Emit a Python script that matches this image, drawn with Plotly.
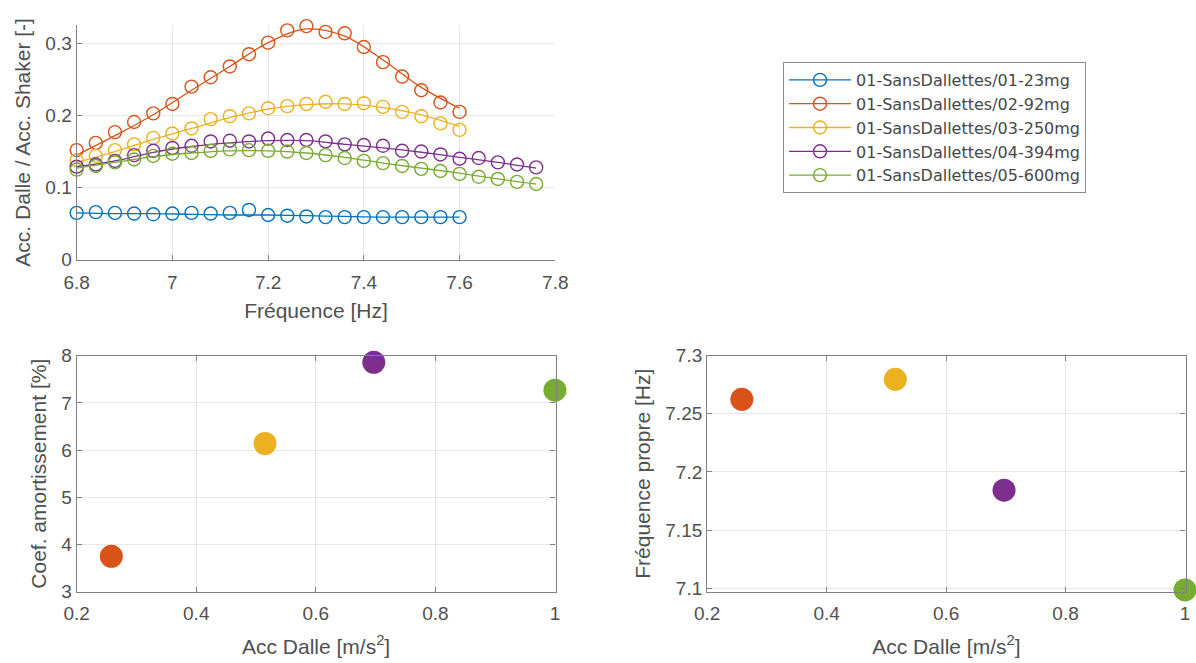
import plotly.graph_objects as go

# ---------------- data ----------------
freq_short = [6.80, 6.84, 6.88, 6.92, 6.96, 7.00, 7.04, 7.08, 7.12, 7.16, 7.20,
              7.24, 7.28, 7.32, 7.36, 7.40, 7.44, 7.48, 7.52, 7.56, 7.60]
freq_long = freq_short + [7.64, 7.68, 7.72, 7.76]

blue_pts = [0.065, 0.066, 0.065, 0.064, 0.063, 0.064, 0.065, 0.064, 0.065, 0.069, 0.062,
            0.061, 0.060, 0.059, 0.059, 0.059, 0.059, 0.059, 0.059, 0.059, 0.059]
orange_pts = [0.152, 0.162, 0.177, 0.191, 0.203, 0.216, 0.240, 0.253, 0.268, 0.285, 0.301,
              0.318, 0.324, 0.316, 0.314, 0.295, 0.274, 0.254, 0.235, 0.218, 0.205]
yellow_pts = [0.138, 0.144, 0.152, 0.160, 0.169, 0.175, 0.182, 0.195, 0.199, 0.203, 0.210,
              0.213, 0.216, 0.219, 0.216, 0.217, 0.212, 0.205, 0.199, 0.189, 0.180]
purple_pts = [0.129, 0.132, 0.137, 0.145, 0.151, 0.155, 0.158, 0.164, 0.165, 0.164, 0.168,
              0.166, 0.166, 0.164, 0.160, 0.159, 0.158, 0.151, 0.150, 0.146, 0.140,
              0.141, 0.135, 0.132, 0.128]
green_pts = [0.125, 0.130, 0.135, 0.139, 0.144, 0.147, 0.148, 0.151, 0.153, 0.152, 0.151,
             0.150, 0.148, 0.145, 0.141, 0.137, 0.134, 0.130, 0.126, 0.123, 0.119,
             0.115, 0.112, 0.108, 0.105]

# fitted curves (on a coarser grid)
fit_freq_short = [6.80, 6.88, 6.96, 7.04, 7.12, 7.20, 7.28, 7.36, 7.44, 7.52, 7.60]
fit_freq_long = fit_freq_short + [7.68, 7.76]
blue_fit = [0.065, 0.064, 0.064, 0.063, 0.062, 0.062, 0.061, 0.060, 0.059, 0.059, 0.059]
orange_fit = [0.145, 0.172, 0.201, 0.235, 0.268, 0.301, 0.320, 0.310, 0.277, 0.239, 0.210]
yellow_fit = [0.135, 0.150, 0.167, 0.182, 0.197, 0.209, 0.215, 0.216, 0.211, 0.201, 0.185]
purple_fit = [0.129, 0.137, 0.149, 0.157, 0.162, 0.165, 0.165, 0.160, 0.155, 0.149, 0.142, 0.135, 0.127]
green_fit = [0.127, 0.135, 0.143, 0.148, 0.151, 0.151, 0.148, 0.142, 0.134, 0.127, 0.120, 0.112, 0.105]

series_names = ["01-SansDallettes/01-23mg", "01-SansDallettes/02-92mg",
                "01-SansDallettes/03-250mg", "01-SansDallettes/04-394mg",
                "01-SansDallettes/05-600mg"]
colors = ["#0072BD", "#D95319", "#EDB120", "#7E2F8E", "#77AC30"]

# summary per test (02..05)
acc_dalle = [0.258, 0.515, 0.697, 1.0]
coef_amort = [3.75, 6.14, 7.86, 7.27]
freq_propre = [7.2625, 7.2797, 7.1843, 7.0985]
summary_colors = colors[1:]

# ---------------- figure ----------------
fig = go.Figure()

pts_x = [freq_short, freq_short, freq_short, freq_long, freq_long]
pts_y = [blue_pts, orange_pts, yellow_pts, purple_pts, green_pts]
fit_x = [fit_freq_short, fit_freq_short, fit_freq_short, fit_freq_long, fit_freq_long]
fit_y = [blue_fit, orange_fit, yellow_fit, purple_fit, green_fit]

for i in range(5):
    fig.add_trace(go.Scatter(x=fit_x[i], y=fit_y[i], mode="lines",
                             line=dict(color=colors[i], width=1.3, shape="spline", smoothing=1.0),
                             showlegend=False, hoverinfo="skip", xaxis="x", yaxis="y"))
    fig.add_trace(go.Scatter(x=pts_x[i], y=pts_y[i], mode="markers", cliponaxis=False,
                             marker=dict(symbol="circle-open", size=13, color=colors[i],
                                         line=dict(width=1.4, color=colors[i])),
                             showlegend=False, xaxis="x", yaxis="y"))
for i in range(5):
    fig.add_trace(go.Scatter(x=[None], y=[None], mode="lines+markers", name=series_names[i],
                             line=dict(color=colors[i], width=1.3),
                             marker=dict(symbol="circle-open", size=13, color=colors[i],
                                         line=dict(width=1.4, color=colors[i])),
                             xaxis="x", yaxis="y"))

fig.add_trace(go.Scatter(x=acc_dalle, y=coef_amort, mode="markers",
                         marker=dict(size=23, color=summary_colors, line=dict(width=0)),
                         cliponaxis=False, showlegend=False, xaxis="x2", yaxis="y2"))
fig.add_trace(go.Scatter(x=acc_dalle, y=freq_propre, mode="markers",
                         marker=dict(size=23, color=summary_colors, line=dict(width=0)),
                         cliponaxis=False, showlegend=False, xaxis="x3", yaxis="y3"))

FONT = "Liberation Sans"
TXT = "#505050"
LINE = "#808080"
GRID = "#e6e6e6"

def ax(**kw):
    base = dict(showgrid=True, gridcolor=GRID, gridwidth=1, showline=True, linecolor=LINE,
                linewidth=1.2, ticks="inside", ticklen=5, tickcolor=LINE, tickwidth=1,
                zeroline=False, automargin=False, ticklabeloverflow="allow",
                tickfont=dict(family=FONT, size=19, color=TXT))
    base.update(kw)
    return base

def ttl(text, standoff):
    return dict(text=text, font=dict(family=FONT, size=21, color=TXT), standoff=standoff)

fig.update_layout(
    width=1196, height=663,
    margin=dict(l=0, r=0, t=0, b=0),
    paper_bgcolor="white", plot_bgcolor="white",
    font=dict(family=FONT, color=TXT),
    xaxis=ax(domain=[0.0641, 0.4643], range=[6.8, 7.8], tick0=6.8, dtick=0.2,
             anchor="y", ticklabelstandoff=5, title=ttl("Fréquence [Hz]", 11)),
    yaxis=ax(domain=[0.6083, 0.9623], range=[0, 0.3255], tick0=0, dtick=0.1,
             anchor="x", title=ttl("Acc. Dalle / Acc. Shaker [-]", 8)),
    xaxis2=ax(domain=[0.0641, 0.4645], range=[0.2, 1.001], tick0=0.2, dtick=0.2,
              anchor="y2", mirror="ticks", ticklabelstandoff=4,
              title=ttl("Acc Dalle [m/s<sup>2</sup>]", 16)),
    yaxis2=ax(domain=[0.1075, 0.4635], range=[3, 8], tick0=3, dtick=1,
              anchor="x2", mirror="ticks", title=ttl("Coef. amortissement [%]", 8)),
    xaxis3=ax(domain=[0.5913, 0.9913], range=[0.2, 1.001], tick0=0.2, dtick=0.2,
              anchor="y3", mirror="ticks", ticklabelstandoff=4,
              title=ttl("Acc Dalle [m/s<sup>2</sup>]", 16)),
    yaxis3=ax(domain=[0.1075, 0.4635], range=[7.097, 7.3], tick0=7.1, dtick=0.05,
              anchor="x3", mirror="ticks", title=ttl("Fréquence propre [Hz]", 8)),
    legend=dict(x=0.6547, y=0.9065, xanchor="left", yanchor="top",
                bgcolor="white", bordercolor="#8c8c8c", borderwidth=1,
                font=dict(family="DejaVu Sans", size=16, color="#474747"),
                tracegroupgap=0, itemwidth=62),
)

fig.write_html("out.html", config={"displayModeBar": False},
               post_script="document.body.style.margin='0px';")
